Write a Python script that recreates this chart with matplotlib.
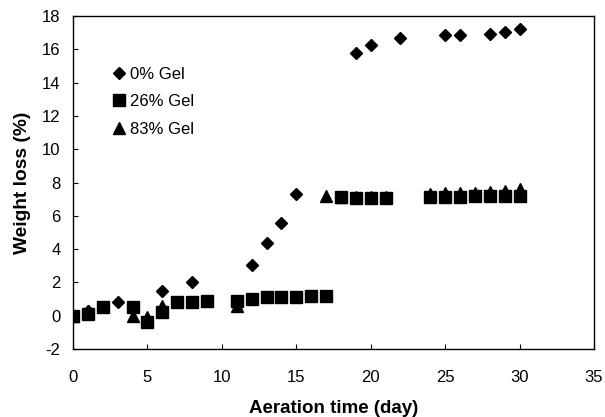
import matplotlib
matplotlib.use('Agg')
import matplotlib.pyplot as plt

plt.rcParams['font.family'] = ['Liberation Sans', 'DejaVu Sans']
plt.rcParams['axes.unicode_minus'] = False

# 0% Gel
day_0 = [0, 1, 3, 6, 8, 12, 13, 14, 15, 19, 20, 22, 25, 26, 28, 29, 30]
loss_0 = [0.0, 0.3, 0.8, 1.5, 2.0, 3.05, 4.35, 5.55, 7.3, 15.8, 16.25, 16.65, 16.85, 16.85, 16.9, 17.05, 17.2]

# 26% Gel
day_26 = [0, 1, 2, 4, 5, 6, 7, 8, 9, 11, 12, 13, 14, 15, 16, 17,
          18, 19, 20, 21, 24, 25, 26, 27, 28, 29, 30]
loss_26 = [0.0, 0.1, 0.5, 0.5, -0.4, 0.25, 0.8, 0.85, 0.9, 0.9, 1.0, 1.15, 1.15, 1.15, 1.2, 1.2,
           7.15, 7.1, 7.1, 7.1, 7.15, 7.15, 7.15, 7.2, 7.2, 7.2, 7.2]

# 83% Gel
day_83 = [0, 1, 4, 5, 6, 11, 17, 18, 19, 20, 21, 24, 25, 26, 27, 28, 29, 30]
loss_83 = [0.0, 0.3, 0.0, -0.1, 0.6, 0.6, 7.2, 7.15, 7.15, 7.15, 7.15,
           7.3, 7.35, 7.4, 7.4, 7.45, 7.5, 7.6]

fig = plt.figure(figsize=(6.05, 4.17), dpi=100)
ax = fig.add_axes([0.1207, 0.163, 0.8611, 0.7986])

ax.plot(day_0, loss_0, 'D', color='black', ms=6.3, ls='none', label='0% Gel')
ax.plot(day_26, loss_26, 's', color='black', ms=8.3, ls='none', label='26% Gel')
ax.plot(day_83, loss_83, '^', color='black', ms=8.8, ls='none', label='83% Gel')

ax.set_xlim(0, 35)
ax.set_ylim(-2, 18)
ax.set_xticks(range(0, 36, 5))
ax.set_yticks(range(-2, 19, 2))
ax.tick_params(direction='in', length=3.6, width=0.8, labelsize=12, colors='black')
ax.tick_params(axis='x', pad=15)
ax.tick_params(axis='y', pad=9)
for s in ax.spines.values():
    s.set_linewidth(1)

ax.set_xlabel('Aeration time (day)', fontsize=13.5, fontweight='bold', labelpad=11)
ax.set_ylabel('Weight loss (%)', fontsize=13.8, fontweight='bold', labelpad=8)

ax.legend(loc='upper left', bbox_to_anchor=(0.062, 0.868), frameon=False, fontsize=12,
          handlelength=0.8, handletextpad=0.3, labelspacing=0.75, borderaxespad=0)

fig.savefig('out.png', dpi=100)
